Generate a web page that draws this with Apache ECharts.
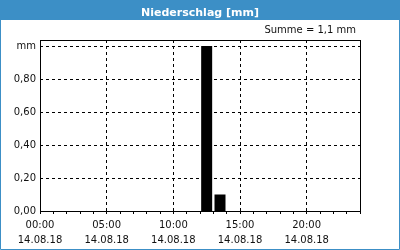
<!DOCTYPE html>
<html><head><meta charset="utf-8">
<script src="https://cdn.jsdelivr.net/npm/echarts@6/dist/echarts.min.js"></script>
<style>html,body{margin:0;padding:0;background:#fff}#c{width:400px;height:250px}</style>
</head><body><div id="c"></div>
<script>
const titleText = 'Niederschlag [mm]';
const sumText = 'Summe = 1,1 mm';
const hourStarts = [12, 13];
const precip = [1.0, 0.1];
const xTickLabels = ['00:00', '05:00', '10:00', '15:00', '20:00'];
const dateLabel = '14.08.18';
const yTickLabels = ['0,00', '0,20', '0,40', '0,60', '0,80', 'mm'];

const chart = echarts.init(document.getElementById('c'), null, {renderer: 'canvas'});
const font = 'DejaVu Sans';
chart.setOption({
  animation: false,
  backgroundColor: '#fff',
  title: {
    text: titleText, left: 'center', top: 3,
    textStyle: {color: '#fff', fontFamily: font, fontSize: 11, fontWeight: 'bold'}
  },
  graphic: [
    {type: 'rect', z: -10, shape: {x: 0, y: 0, width: 400, height: 20}, style: {fill: '#3c8fc6'}},
    {type: 'rect', z: 100, shape: {x: 0.5, y: 0.5, width: 399, height: 249}, style: {fill: 'none', stroke: '#3c8fc6', lineWidth: 1}},
    {type: 'rect', z: 100, shape: {x: 40.5, y: 40.5, width: 320, height: 171}, style: {fill: 'none', stroke: '#000', lineWidth: 1}},
    {type: 'text', right: 44, top: 25, style: {text: sumText, fill: '#111', font: '10px "DejaVu Sans"'}}
  ],
  grid: {left: 40, top: 40, right: 40, bottom: 39, show: false},
  xAxis: [
    {
      type: 'value', min: 0, max: 24, interval: 5,
      axisLine: {show: false}, axisTick: {show: false},
      splitLine: {show: true, lineStyle: {color: '#000', type: [3, 3], width: 1}},
      axisLabel: {
        showMaxLabel: false, margin: 7, lineHeight: 15,
        fontFamily: font, fontSize: 10, color: '#111',
        formatter: (v) => { const i = Math.round(v / 5); return (xTickLabels[i] || '') + '\n' + dateLabel; }
      }
    },
    {
      type: 'value', min: 0, max: 24, interval: 1, position: 'bottom',
      axisLine: {show: false},
      axisTick: {show: true, length: 3, lineStyle: {color: '#000'}},
      axisLabel: {show: false}, splitLine: {show: false}
    }
  ],
  yAxis: {
    type: 'value', min: 0, max: 1.036, interval: 0.2,
    axisLine: {show: false}, axisTick: {show: false},
    splitLine: {show: true, lineStyle: {color: '#000', type: [3, 3], width: 1}},
    axisLabel: {
      showMaxLabel: false, margin: 4, fontFamily: font, fontSize: 10, color: '#111',
      formatter: (v) => yTickLabels[Math.round(v / 0.2)] || ''
    }
  },
  series: [{
    type: 'bar', xAxisIndex: 0, barWidth: 11,
    itemStyle: {color: '#000'},
    data: hourStarts.map((h, i) => [h + 0.5, precip[i]])
  }]
});
</script></body></html>
